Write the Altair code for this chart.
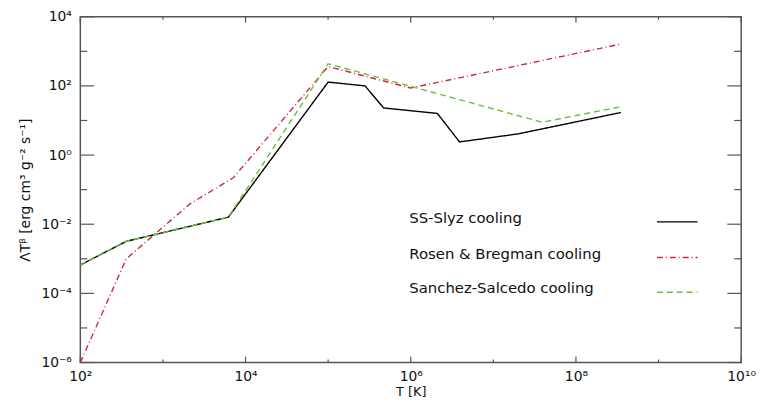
import altair as alt
import pandas as pd

# ---- data (T in K, Lambda T^beta) ----
series_names = ["SS-Slyz cooling", "Rosen & Bregman cooling", "Sanchez-Salcedo cooling"]

T_ss = [1e2, 3.6e2, 6.2e3, 1.0e5, 2.8e5, 4.7e5, 2.1e6, 3.9e6, 2.0e7, 3.5e8]
L_ss = [6.6e-4, 3.2e-3, 1.6e-2, 129, 100, 23, 16, 2.4, 4.1, 17]

T_rb = [1e2, 3.6e2, 2.1e3, 7.1e3, 1.0e5, 1.0e6, 3.5e8]
L_rb = [1e-6, 1e-3, 0.038, 0.22, 363, 87, 1620]

T_sa = [1e2, 3.6e2, 6.2e3, 1.0e5, 3.9e7, 3.5e8]
L_sa = [6.6e-4, 3.2e-3, 1.6e-2, 437, 8.9, 25]

x_major = [1e2, 1e4, 1e6, 1e8, 1e10]
x_minor = [1e3, 1e5, 1e7, 1e9]
y_major = [1e-6, 1e-4, 1e-2, 1e0, 1e2, 1e4]
y_minor = [1e-5, 1e-3, 1e-1, 1e1, 1e3]

colors = ["#000000", "#cc2a3c", "#6cbf3c"]
dashes = [[1, 0], [6, 3, 1, 3], [6, 4]]

W, H = 667, 349
FONT = "DejaVu Sans"
AXC = "#555555"

rows = []
for name, Ts, Ls in zip(series_names, [T_ss, T_rb, T_sa], [L_ss, L_rb, L_sa]):
    for i, (t, l) in enumerate(zip(Ts, Ls)):
        rows.append({"series": name, "T": t, "L": l, "i": i})
df = pd.DataFrame(rows)

SUP = {"0": "⁰", "1": "¹", "2": "²", "3": "³", "4": "⁴", "5": "⁵",
       "6": "⁶", "7": "⁷", "8": "⁸", "9": "⁹", "-": "⁻"}


def sup(e):
    return "".join(SUP[c] for c in str(e))


def label_expr(exps):
    parts = [f"round(log(datum.value)/LN10)=={e} ? '10{sup(e)}'" for e in exps]
    return " : ".join(parts) + " : ''"


x_scale = alt.Scale(type="log", domain=[1e2, 1e10], nice=False)
y_scale = alt.Scale(type="log", domain=[1e-6, 1e4], nice=False)

x_axis = alt.Axis(values=x_major, labelExpr=label_expr([2, 4, 6, 8, 10]),
                  tickSize=0, domain=False, grid=False, labelFlush=False,
                  labelPadding=7, labelFont=FONT, labelFontSize=14,
                  labelColor="#111", title="T  [K]", titleFont=FONT,
                  titleFontSize=13, titleFontWeight="normal", titlePadding=2,
                  titleColor="#111")
y_axis = alt.Axis(values=y_major, labelExpr=label_expr([-6, -4, -2, 0, 2, 4]),
                  tickSize=0, domain=False, grid=False, labelFlush=False,
                  labelPadding=9, labelFont=FONT, labelFontSize=14,
                  labelColor="#111",
                  title="ΛTᵝ [erg cm³ g⁻² s⁻¹]", titleFont=FONT,
                  titleFontSize=14, titleFontWeight="normal", titlePadding=8,
                  titleColor="#111")

X = alt.X("T:Q", scale=x_scale, axis=x_axis)
Y = alt.Y("L:Q", scale=y_scale, axis=y_axis)

color_enc = alt.Color("series:N", scale=alt.Scale(domain=series_names, range=colors), legend=None)
dash_enc = alt.StrokeDash("series:N", scale=alt.Scale(domain=series_names, range=dashes), legend=None)

lines = alt.Chart(df).mark_line(strokeWidth=1.4).encode(
    x=X, y=Y, color=color_enc, strokeDash=dash_enc, order="i:Q", detail="series:N"
)

layers = [lines]


# inward ticks on all four sides
def xticks(vals, length):
    d = pd.DataFrame({"T": vals})
    bot = alt.Chart(d).mark_rule(color=AXC, strokeWidth=1.2).encode(
        x=X, y=alt.value(H), y2=alt.value(H - length))
    top = alt.Chart(d).mark_rule(color=AXC, strokeWidth=1.2).encode(
        x=X, y=alt.value(0), y2=alt.value(length))
    return [bot, top]


def yticks(vals, length):
    d = pd.DataFrame({"L": vals})
    left = alt.Chart(d).mark_rule(color=AXC, strokeWidth=1.2).encode(
        y=Y, x=alt.value(0), x2=alt.value(length))
    right = alt.Chart(d).mark_rule(color=AXC, strokeWidth=1.2).encode(
        y=Y, x=alt.value(W), x2=alt.value(W - length))
    return [left, right]


layers += xticks(x_major, 6) + xticks(x_minor, 3)
layers += yticks(y_major, 14) + yticks(y_minor, 7)

# custom legend inside the plot
leg_text_y = [203, 239, 274]
leg_line_y = [207, 243, 278]
for name, ty, ly in zip(series_names, leg_text_y, leg_line_y):
    d = pd.DataFrame({"series": [name]})
    layers.append(alt.Chart(d).mark_text(align="left", baseline="middle", font=FONT,
                                         fontSize=15, color="#111").encode(
        text="series:N", x=alt.value(332), y=alt.value(ty)))
    layers.append(alt.Chart(d).mark_rule(strokeWidth=1.4).encode(
        x=alt.value(582), x2=alt.value(623), y=alt.value(ly),
        color=color_enc, strokeDash=dash_enc))

chart = alt.layer(*layers).properties(
    width=W, height=H,
    autosize=alt.AutoSizeParams(type="none"),
    padding={"left": 73, "top": 7, "right": 17, "bottom": 38},
).configure_view(stroke=AXC, strokeWidth=1.5)

chart.save("out.html", embed_options={"renderer": "svg", "actions": False})
